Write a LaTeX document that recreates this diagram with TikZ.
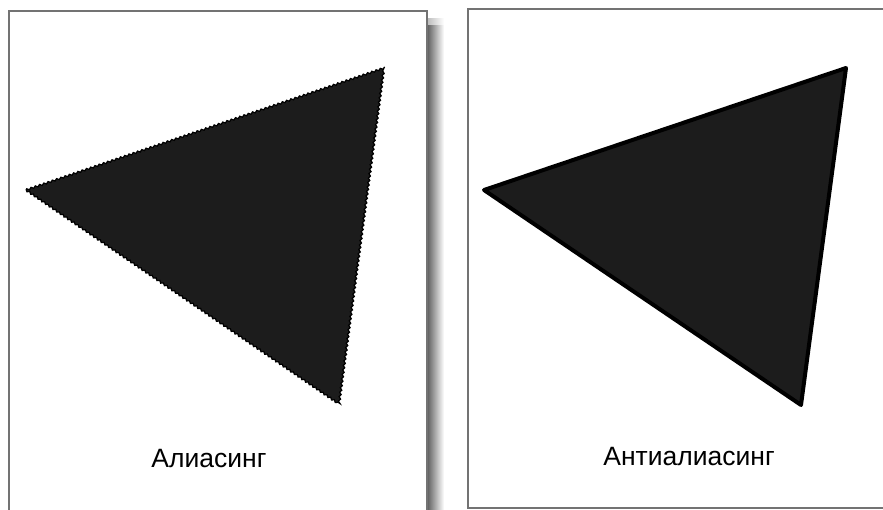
\documentclass[tikz,border=0pt]{standalone}
\usepackage{fontspec}
\setmainfont{Liberation Sans}
\usetikzlibrary{decorations.pathmorphing}
\begin{document}
\begin{tikzpicture}[x=1pt,y=-1pt,
  panel/.style={draw=black!55,line width=1.8pt,fill=white},
  tri/.style={fill={rgb,255:red,28;green,28;blue,28}},
  caption/.style={anchor=base,font=\fontsize{26.5}{30}\selectfont,text=black,inner sep=0pt}]
\useasboundingbox (0,0) rectangle (883,509);
\fill[white] (0,0) rectangle (883,509);
% left panel shadow
\shade[left color=black!60,right color=white] (428,24) rectangle (444,515);
\shade[left color=black!25,right color=white] (428,18) rectangle (444,24);
% panels
\draw[panel] (9,11) rectangle (427,520);
\draw[panel] (468,9) rectangle (900,508);
% aliased triangle
\coordinate (a1) at (26,190);
\coordinate (a2) at (384,68);
\coordinate (a3) at (339,404);
\filldraw[tri,draw=black,line width=1.2pt,line join=miter,
  decorate,decoration={zigzag,segment length=4.5pt,amplitude=0.9pt}]
  (a1) -- (a2) -- (a3) -- cycle;
% antialiased triangle
\coordinate (b1) at (484,190);
\coordinate (b2) at (846,68);
\coordinate (b3) at (801,405);
\filldraw[tri,draw=black,line width=4pt,line join=round] (b1) -- (b2) -- (b3) -- cycle;
% captions
\node[caption] (c1) at (209,467) {Алиасинг};
\node[caption] (c2) at (689,465) {Антиалиасинг};
\end{tikzpicture}
\end{document}
